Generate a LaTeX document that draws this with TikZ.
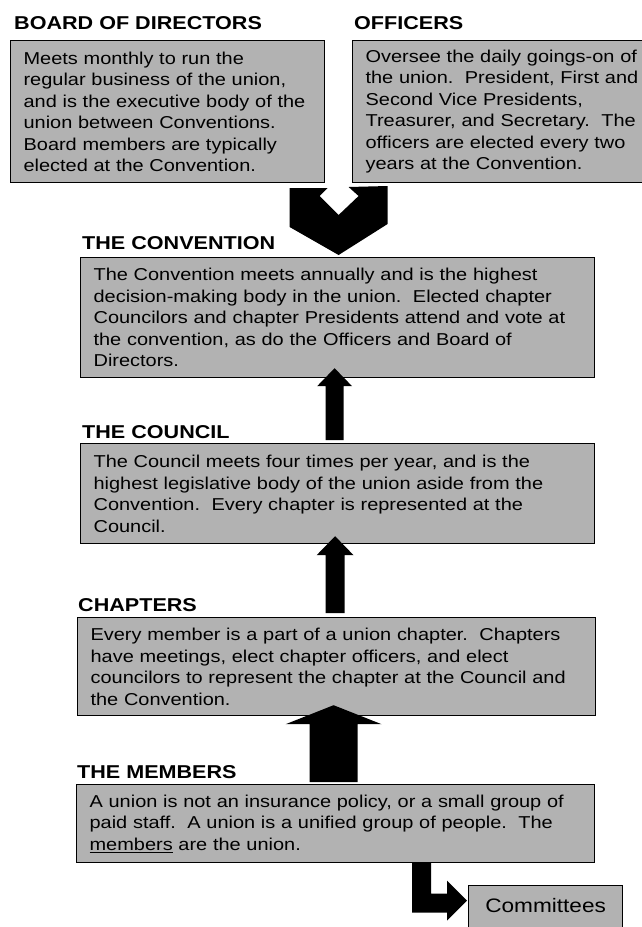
\documentclass[tikz,border=0pt]{standalone}
\usepackage{fontspec}
\setmainfont{Liberation Sans}[FakeStretch=1.16]
\usetikzlibrary{calc}

\definecolor{boxgray}{RGB}{178,178,178}

\newcommand{\dsp}{\ \ }
\newcommand{\blockup}[5]{%
	\fill[blockfill] let \p1=(#1), \p2=(#2) in
		(\x2,\y2) -- (\x2+#4,\y2-#5) -- (\x2+#3,\y2-#5) -- (\x2+#3,\y1)
		-- (\x2-#3,\y1) -- (\x2-#3,\y2-#5) -- (\x2-#4,\y2-#5) -- cycle;
}

\tikzset{
	box/.style={draw=black, line width=1.2pt, fill=boxgray, anchor=north west,
		inner xsep=13pt, inner ysep=0pt, align=left,
		font=\fontsize{17.2}{21.5}\selectfont},
	heading/.style={anchor=west, inner sep=0pt,
		font=\bfseries\fontsize{18.6}{20}\selectfont},
	blockfill/.style={fill=black}
}

\begin{document}
\begin{tikzpicture}[x=1pt,y=-1pt]

\path[use as bounding box, fill=white] (0,0) rectangle (641,927);

\node[heading] (board-t) at (14,23) {BOARD OF DIRECTORS};
\node[heading] (off-t) at (354,23) {OFFICERS};
\node[heading] (conv-t) at (82,243) {THE CONVENTION};
\node[heading] (coun-t) at (82,432) {THE COUNCIL};
\node[heading] (chap-t) at (78,605) {CHAPTERS};
\node[heading] (mem-t) at (77,772) {THE MEMBERS};

\node[box, text width=288pt, minimum height=142pt] (board) at (10,40) {Meets monthly to run the\\
regular business of the union,\\
and is the executive body of the\\
union between Conventions.\\
Board members are typically\\
elected at the Convention.};

\node[box, text width=284pt, minimum height=142pt] (off) at (352,40) {Oversee the daily goings-on of\\
the union.\dsp President, First and\\
Second Vice Presidents,\\
Treasurer, and Secretary.\dsp The\\
officers are elected every two\\
years at the Convention.};

\node[box, text width=488pt, minimum height=120pt] (conv) at (80,257) {The Convention meets annually and is the highest\\
decision-making body in the union.\dsp Elected chapter\\
Councilors and chapter Presidents attend and vote at\\
the convention, as do the Officers and Board of\\
Directors.};

\node[box, text width=488pt, minimum height=100pt] (coun) at (80,443) {The Council meets four times per year, and is the\\
highest legislative body of the union aside from the\\
Convention.\dsp Every chapter is represented at the\\
Council.};

\node[box, text width=492pt, minimum height=98pt] (chap) at (77,617) {Every member is a part of a union chapter.\dsp Chapters\\
have meetings, elect chapter officers, and elect\\
councilors to represent the chapter at the Council and\\
the Convention.};

\node[box, text width=492pt, minimum height=78pt, inner xsep=13pt] (mem) at (76,784) {\makebox[485pt][s]{A union is not an insurance policy, or a small group of}\\
\makebox[485pt][s]{paid staff.\dsp A union is a unified group of people.\dsp The}\\
\underline{members} are the union.};

\node[box, align=center, inner xsep=0pt, minimum width=154pt, minimum height=52pt,
	font=\fontsize{19.5}{22}\selectfont] (comm) at (468,885) {\raisebox{12pt}{Committees}};

\coordinate (vtip) at ([xshift=1pt,yshift=2pt]conv.north);
\fill[blockfill, shift={(vtip)}] (0,0) -- (-49,-28) -- (-49,-67) -- (-11,-67) -- (-19,-59)
	-- (0,-40) -- (20,-59) -- (10,-68) -- (49,-69) -- (49,-31) -- cycle;

\coordinate (a1tail) at ([xshift=-3pt,yshift=3pt]coun.north);
\coordinate (a1tip) at ([xshift=-3pt,yshift=10pt]conv.south);
\blockup{a1tail}{a1tip}{9pt}{17.5pt}{18pt}

\coordinate (a2tail) at ([xshift=-2.5pt,yshift=4pt]chap.north);
\coordinate (a2tip) at ([xshift=-2.5pt,yshift=8pt]coun.south);
\blockup{a2tail}{a2tip}{9.5pt}{18.5pt}{19pt}

\coordinate (a3tail) at ([xshift=-3pt,yshift=2pt]mem.north);
\coordinate (a3tip) at ([xshift=-3pt,yshift=11pt]chap.south);
\blockup{a3tail}{a3tip}{24pt}{48pt}{19pt}

\fill[blockfill] let \p1=(mem.south), \p2=(comm.west) in
	(\x2-56pt,\y1) -- (\x2-37pt,\y1) -- (\x2-37pt,\y2+18pt) -- (\x2-21pt,\y2+18pt)
	-- (\x2-21pt,\y2+31pt) -- (\x2-1pt,\y2+11pt) -- (\x2-21pt,\y2-9pt)
	-- (\x2-21pt,\y2-1pt) -- (\x2-56pt,\y2-1pt) -- cycle;

\end{tikzpicture}
\end{document}
